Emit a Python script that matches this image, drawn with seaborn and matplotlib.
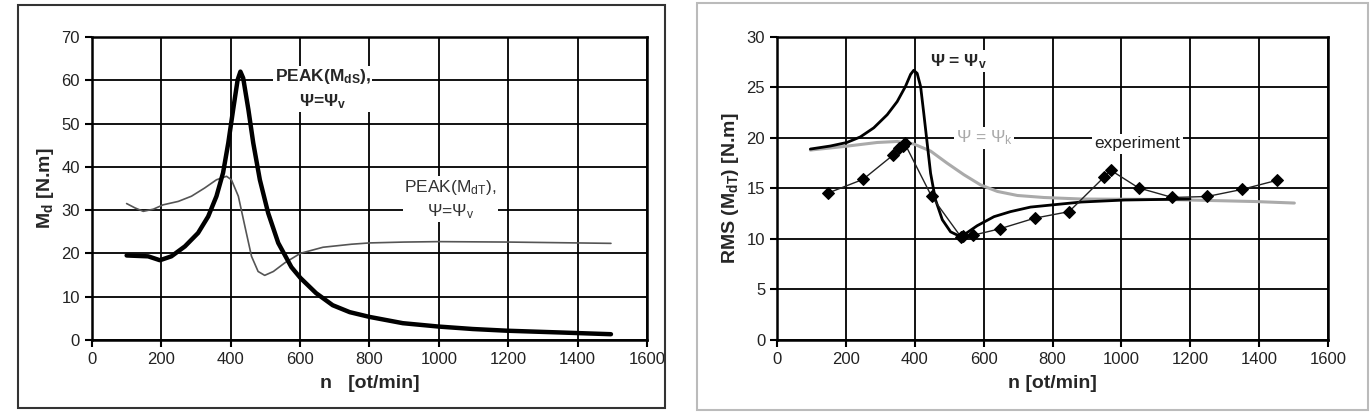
import matplotlib
matplotlib.use("Agg")
import matplotlib.pyplot as plt
import seaborn as sns
from matplotlib.patches import Rectangle

# left panel: PEAK(M_dS) (thick) and PEAK(M_dT) (thin)
n_ds = [100, 162, 196, 229, 268, 306, 335, 359, 378, 393, 407, 420, 428, 436, 451, 465, 484,
        508, 537, 575, 601, 646, 694, 743, 800, 896, 999, 1098, 1198, 1350, 1496]
m_ds = [19.5, 19.3, 18.4, 19.3, 21.6, 24.7, 28.5, 33.2, 38.6, 45.5, 53.2, 60.1, 62.0, 60.5,
        53.2, 45.5, 37.0, 29.3, 22.4, 16.8, 14.3, 10.8, 8.0, 6.4, 5.3, 3.85, 3.07, 2.5, 2.1,
        1.7, 1.3]

n_dt = [100, 124, 148, 177, 205, 249, 287, 325, 359, 388, 402, 422, 441, 460, 479, 498, 523,
        556, 601, 666, 748, 800, 900, 1000, 1200, 1496]
m_dt = [31.5, 30.5, 29.7, 30.2, 31.2, 32.0, 33.2, 35.1, 37.0, 37.8, 37.0, 33.2, 26.2, 19.3,
        15.8, 14.9, 15.8, 17.8, 20.0, 21.4, 22.1, 22.4, 22.6, 22.7, 22.6, 22.3]

# right panel: RMS(M_dT)
n_v = [97, 155, 203, 242, 281, 320, 349, 373, 388, 397, 407, 417, 426, 436, 446, 460, 480,
       504, 528, 547, 581, 630, 678, 736, 809, 883, 1009, 1199]
rms_v = [18.9, 19.2, 19.55, 20.1, 21.0, 22.3, 23.6, 25.1, 26.3, 26.7, 26.4, 25.1, 22.5, 19.5,
         16.5, 13.9, 11.9, 10.7, 10.3, 10.5, 11.3, 12.2, 12.7, 13.15, 13.4, 13.65, 13.85, 13.95]

n_k = [97, 194, 291, 349, 397, 446, 494, 543, 591, 640, 698, 775, 883, 1136, 1388, 1502]
rms_k = [18.8, 19.15, 19.55, 19.65, 19.4, 18.7, 17.5, 16.35, 15.35, 14.7, 14.3, 14.1, 13.95,
         13.9, 13.7, 13.55]

n_exp = [149, 250, 337, 353, 366, 371, 449, 534, 540, 568, 647, 748, 848, 949, 969, 1050,
         1148, 1249, 1350, 1451]
rms_exp = [14.55, 15.9, 18.3, 19.0, 19.2, 19.45, 14.2, 10.2, 10.3, 10.35, 11.0, 12.05, 12.7,
           16.1, 16.8, 15.05, 14.1, 14.2, 14.9, 15.8]

sns.set_theme(style="white")
plt.rcParams['font.family'] = ['Liberation Sans', 'DejaVu Sans']
plt.rcParams['mathtext.fontset'] = 'custom'
plt.rcParams['mathtext.rm'] = 'Liberation Sans'
plt.rcParams['mathtext.it'] = 'Liberation Sans'
plt.rcParams['mathtext.bf'] = 'Liberation Sans:bold'
plt.rcParams['mathtext.default'] = 'regular'

fig = plt.figure(figsize=(13.72, 4.18), dpi=100)
ax1 = fig.add_axes([0.067, 0.187, 0.4046, 0.7245])
ax2 = fig.add_axes([0.5663, 0.187, 0.4017, 0.7245])

# panel frames
fig.patches.append(Rectangle((18 / 1372, 10 / 418), 647 / 1372, 403 / 418, transform=fig.transFigure,
                             fill=False, edgecolor='#333333', linewidth=1.5))
fig.patches.append(Rectangle((697 / 1372, 8 / 418), 671 / 1372, 407 / 418, transform=fig.transFigure,
                             fill=False, edgecolor='#bbbbbb', linewidth=1.5))


def style_axis(ax, ymax, ystep):
    ax.set_xlim(0, 1600)
    ax.set_ylim(0, ymax)
    ax.set_xticks(range(0, 1601, 200))
    ax.set_yticks(range(0, ymax + 1, ystep))
    ax.grid(True, color='black', linewidth=1.3)
    ax.set_axisbelow(True)
    for s in ax.spines.values():
        s.set_color('black')
        s.set_linewidth(1.8)
    ax.tick_params(axis='both', direction='out', length=5, width=1.5, color='black',
                   labelsize=12, labelcolor='#222222', left=True, bottom=True)


# left chart
sns.lineplot(x=n_dt, y=m_dt, ax=ax1, color='#555555', linewidth=1.2, sort=False)
sns.lineplot(x=n_ds, y=m_ds, ax=ax1, color='black', linewidth=3.2, sort=False)
style_axis(ax1, 70, 10)
ax1.set_xlabel("n   [ot/min]", fontsize=14, fontweight='bold', labelpad=6)
ax1.set_ylabel("M$_{d}$ [N.m]", fontsize=14, fontweight='bold', labelpad=4)
ax1.text(665, 58, "PEAK(M$_{dS}$),\nΨ=Ψ$_{v}$", ha='center', va='center', fontsize=12.5,
         fontweight='bold', linespacing=1.4,
         bbox=dict(facecolor='white', edgecolor='none', pad=1))
ax1.text(1034, 32.5, "PEAK(M$_{dT}$),\nΨ=Ψ$_{v}$", ha='center', va='center', fontsize=12.5,
         color='#333333', linespacing=1.4,
         bbox=dict(facecolor='white', edgecolor='none', pad=1))

# right chart
sns.lineplot(x=n_k, y=rms_k, ax=ax2, color='#aaaaaa', linewidth=2.2, sort=False)
sns.lineplot(x=n_v, y=rms_v, ax=ax2, color='black', linewidth=2.0, sort=False)
sns.lineplot(x=n_exp, y=rms_exp, ax=ax2, color='#222222', linewidth=1.0, sort=False,
             marker='D', markersize=6, markeredgecolor='black', markerfacecolor='black')
style_axis(ax2, 30, 5)
ax2.set_xlabel("n [ot/min]", fontsize=14, fontweight='bold', labelpad=6)
ax2.set_ylabel("RMS (M$_{dT}$) [N.m]", fontsize=14, fontweight='bold', labelpad=4)
ax2.text(527, 27.6, "Ψ = Ψ$_{v}$", ha='center', va='center', fontsize=12.5, fontweight='bold',
         bbox=dict(facecolor='white', edgecolor='none', pad=1))
ax2.text(602, 20.0, "Ψ = Ψ$_{k}$", ha='center', va='center', fontsize=12.5, color='#aaaaaa',
         bbox=dict(facecolor='white', edgecolor='none', pad=1))
ax2.text(1047, 19.4, "experiment", ha='center', va='center', fontsize=12.5, color='#222222',
         bbox=dict(facecolor='white', edgecolor='none', pad=2))

fig.savefig("out.png", dpi=100)
plt.close(fig)
